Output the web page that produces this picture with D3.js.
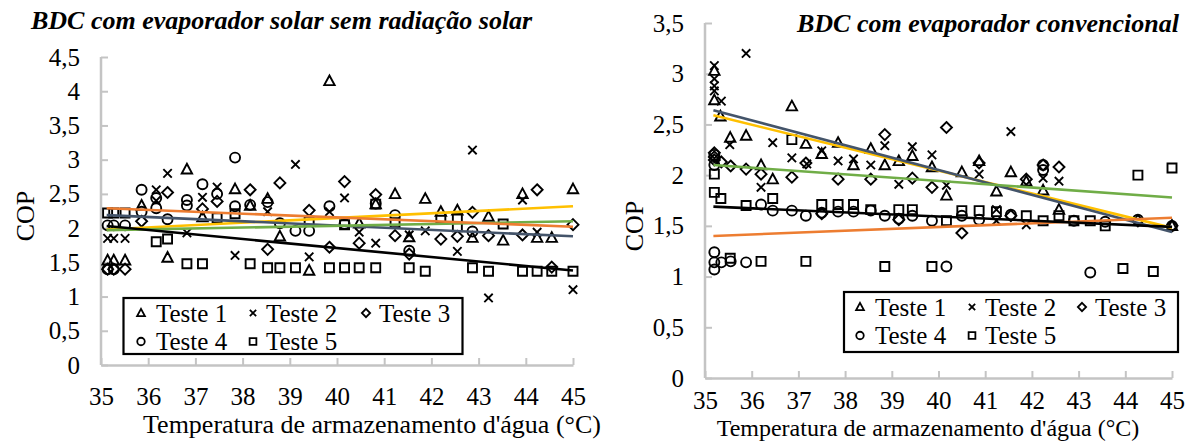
<!DOCTYPE html>
<html><head><meta charset="utf-8">
<script src="https://cdn.jsdelivr.net/npm/d3@7"></script>
<style>
html,body{margin:0;padding:0;background:#fff;}
svg{display:block;}
svg text{font-family:"Liberation Serif","Times New Roman",Times,serif !important;fill:#000;}
</style></head>
<body>
<svg id="chart" width="1196" height="441"></svg>
<script>
// ---------- DATA ----------
const testNames = ["Teste 1", "Teste 2", "Teste 3", "Teste 4", "Teste 5"];
const markerTypes = ["triangle", "cross", "diamond", "circle", "square"];
const trendColors = ["#FFC000", "#44546A", "#70AD47", "#ED7D31", "#000000"];
const xTickValues = [35, 36, 37, 38, 39, 40, 41, 42, 43, 44, 45];
const leftYTicks = [0, 0.5, 1, 1.5, 2, 2.5, 3, 3.5, 4, 4.5];
const rightYTicks = [0, 0.5, 1, 1.5, 2, 2.5, 3, 3.5];
const leftTitle = "BDC com evaporador solar sem radiação solar";
const rightTitle = "BDC com evaporador convencional";
const xTitle = "Temperatura de armazenamento d'água (°C)";
const yTitle = "COP";

// Left panel: [temperature, COP]
const leftTeste1 = [[35.14,1.53],[35.27,1.53],[35.51,1.53],[35.86,2.33],[36.41,1.57],[36.82,2.86],[37.15,2.16],[37.84,2.57],[38.16,2.33],[38.53,2.43],[38.79,1.88],[39.41,1.38],[39.84,4.15],[40.47,2.07],[40.82,2.35],[41.23,2.5],[41.53,1.87],[41.87,2.43],[42.2,2.24],[42.55,2.26],[42.87,1.86],[43.21,2.17],[43.52,1.82],[43.93,2.5],[44.24,1.86],[44.55,1.86],[45,2.57]];
const leftTeste2 = [[35.14,1.85],[35.27,1.85],[35.51,1.85],[36.17,2.56],[36.17,2.4],[36.41,2.8],[36.82,1.93],[37.15,2.45],[37.46,2.6],[37.84,1.6],[38.53,2.24],[39.12,2.93],[39.41,1.58],[39.84,2.24],[40.16,2.44],[40.47,1.94],[40.82,1.78],[41.53,1.9],[41.87,1.96],[42.55,1.66],[42.87,3.14],[43.21,0.98],[43.93,2.41],[44.24,1.94],[45,1.1]];
const leftTeste3 = [[35.14,1.4],[35.27,1.4],[35.51,1.4],[35.86,2.1],[36.41,2.52],[37.15,2.28],[37.46,2.39],[38.16,2.56],[38.53,1.69],[38.79,2.66],[39.41,2.26],[39.84,1.72],[40.16,2.68],[40.47,1.78],[40.82,2.49],[41.23,1.89],[41.53,1.62],[42.2,1.84],[42.55,1.88],[42.87,2.23],[43.21,1.89],[43.93,1.9],[44.24,2.56],[44.55,1.43],[45,2.05]];
const leftTeste4 = [[35.14,2.04],[35.27,2.04],[35.51,2.04],[35.14,1.4],[35.27,1.4],[35.86,2.56],[35.86,2.24],[36.17,2.44],[36.17,2.29],[36.41,2.13],[36.82,2.41],[36.82,2.33],[37.15,2.64],[37.46,2.5],[37.84,3.03],[37.84,2.32],[38.16,2.34],[38.53,2.38],[38.79,2.07],[39.12,1.96],[39.41,1.96],[39.84,2.32],[40.16,2.06],[40.82,2.36],[41.23,2.19],[41.53,1.67],[42.87,1.95]];
const leftTeste5 = [[35.14,2.22],[35.27,2.22],[35.51,2.22],[36.17,1.8],[36.41,1.84],[36.82,1.48],[37.15,1.48],[37.46,2.15],[37.84,2.21],[38.16,1.48],[38.53,1.42],[38.79,1.42],[39.12,1.42],[39.41,2.1],[39.84,1.42],[40.16,1.42],[40.16,2.05],[40.47,1.42],[40.82,1.42],[40.82,2.35],[41.23,2.08],[41.53,1.42],[41.87,1.37],[42.2,2.15],[42.55,2.15],[42.55,2.02],[42.87,1.42],[43.21,1.37],[43.52,2.06],[43.93,1.37],[44.24,1.37],[44.55,1.37],[45,1.37]];
const leftTrendX = [35.12, 45];
const leftTrendStart = [1.98, 2.19, 1.97, 2.29, 2.03];
const leftTrendEnd = [2.32, 1.88, 2.10, 2.02, 1.38];

// Right panel: [temperature, COP]
const rightTeste1 = [[35.2,3.03],[35.2,2.74],[35.33,2.58],[35.54,2.37],[35.88,2.39],[36.2,2.1],[36.45,1.96],[36.86,2.68],[37.16,2.31],[37.5,2.21],[37.85,2.32],[38.18,2.1],[38.55,2.26],[38.85,2.1],[39.15,2.14],[39.44,2.19],[39.86,2.08],[40.17,1.8],[40.5,2.03],[40.87,2.14],[41.24,1.84],[41.55,2.03],[41.88,1.94],[42.24,1.85],[42.58,1.66],[45,1.5]];
const rightTeste2 = [[35.2,3.08],[35.2,2.95],[35.2,2.88],[35.2,2.83],[35.35,2.73],[35.53,2.3],[35.88,3.2],[36.2,1.88],[36.45,2.32],[36.86,2.17],[37.18,2.11],[37.5,2.24],[37.85,2.14],[38.18,2.16],[38.55,2.1],[38.85,2.29],[39.15,1.91],[39.44,2.28],[39.86,2.2],[40.17,1.9],[40.87,2.01],[41.24,1.66],[41.24,1.55],[41.55,2.43],[41.88,1.51],[42.24,1.97],[42.58,1.94]];
const rightTeste3 = [[35.2,2.22],[35.2,2.18],[35.2,2.15],[35.35,2.13],[35.55,2.09],[35.88,2.06],[36.2,2.01],[36.86,1.98],[37.16,2.12],[37.5,1.62],[37.85,1.96],[38.55,1.96],[38.85,2.4],[39.15,1.56],[39.44,1.97],[39.86,1.88],[40.17,2.47],[40.5,1.43],[40.87,2.12],[41.55,1.6],[41.88,1.96],[42.24,2.1],[42.58,2.08],[44.27,1.55],[45,1.5]];
const rightTeste4 = [[35.2,2.2],[35.2,2.1],[35.2,1.24],[35.2,1.14],[35.2,1.07],[35.35,1.14],[35.55,1.15],[35.88,1.14],[36.2,1.71],[36.45,1.65],[36.86,1.65],[37.16,1.6],[37.5,1.63],[37.85,1.64],[38.18,1.64],[38.55,1.65],[38.85,1.6],[39.15,1.57],[39.44,1.6],[39.86,1.55],[40.17,1.1],[40.5,1.6],[40.87,1.56],[41.55,1.61],[42.24,2.05],[42.24,2.1],[42.9,1.55],[43.25,1.04],[43.57,1.54],[44.27,1.56],[45,1.5]];
const rightTeste5 = [[35.2,2.01],[35.2,1.83],[35.34,1.77],[35.54,1.18],[35.88,1.7],[36.2,1.15],[36.45,1.77],[36.86,2.35],[37.16,1.15],[37.5,1.71],[37.85,1.71],[38.18,1.71],[38.55,1.66],[38.85,1.1],[39.15,1.66],[39.44,1.66],[39.86,1.1],[40.17,1.55],[40.5,1.65],[40.87,1.65],[41.24,1.64],[41.88,1.6],[42.24,1.55],[42.58,1.6],[42.9,1.55],[43.25,1.55],[43.57,1.5],[43.95,1.08],[44.27,2.0],[44.6,1.05],[45,2.07]];
const rightTrendX = [35.18, 45];
const rightTrendStart = [2.59, 2.64, 2.10, 1.40, 1.69];
const rightTrendEnd = [1.48, 1.44, 1.78, 1.58, 1.49];

// ---------- DRAWING ----------
const svg = d3.select("#chart");
const FONT = "'Liberation Serif', 'Times New Roman', Times, serif";
const fmt = d => String(d).replace(".", ",");

function markerPath(type, s) {
  const p = d3.path();
  if (type === "triangle") {
    p.moveTo(0, -s * 0.55); p.lineTo(s * 0.52, s * 0.42); p.lineTo(-s * 0.52, s * 0.42); p.closePath();
  } else if (type === "diamond") {
    const r = s * 0.55;
    p.moveTo(0, -r); p.lineTo(r, 0); p.lineTo(0, r); p.lineTo(-r, 0); p.closePath();
  } else if (type === "square") {
    const r = s * 0.45;
    p.rect(-r, -r, 2 * r, 2 * r);
  } else if (type === "circle") {
    const r = s * 0.5;
    p.moveTo(r, 0); p.arc(0, 0, r, 0, 2 * Math.PI);
  } else if (type === "cross") {
    const r = s * 0.42;
    p.moveTo(-r, -r); p.lineTo(r, r); p.moveTo(r, -r); p.lineTo(-r, r);
  }
  return p.toString();
}

function serif(sel, size) {
  return sel.style("font-family", FONT).style("font-size", size + "px").attr("fill", "#000");
}

function drawPanel(cfg) {
  const g = svg.append("g").style("font-family", FONT);
  const x = d3.scaleLinear().domain([35, 45]).range(cfg.xRange);
  const y = d3.scaleLinear().domain([0, cfg.yMax]).range(cfg.yRange);

  // axes
  const xAxis = d3.axisBottom(x).tickValues(xTickValues).tickSize(-7).tickSizeOuter(0).tickPadding(cfg.xPad).tickFormat(d3.format("d"));
  const yAxis = d3.axisLeft(y).tickValues(cfg.yTicks).tickSize(-7).tickSizeOuter(0).tickPadding(21).tickFormat(fmt);
  const gx = g.append("g").attr("transform", `translate(0,${cfg.yRange[0]})`).call(xAxis);
  const gy = g.append("g").attr("transform", `translate(${cfg.xRange[0]},0)`).call(yAxis);
  [gx, gy].forEach(a => {
    a.attr("font-family", null).attr("font-size", null);
    a.select(".domain").attr("stroke", "#c4c4c4").attr("stroke-width", 2.5);
    a.selectAll(".tick line").attr("stroke", "#c4c4c4").attr("stroke-width", 2);
    serif(a.selectAll(".tick text"), 25);
  });
  gy.select(".domain").attr("d", `M0,${cfg.yRange[0]}V${cfg.yRange[1]}`);

  // markers
  cfg.series.forEach((data, i) => {
    g.append("g").selectAll("path").data(data).join("path")
      .attr("transform", d => `translate(${x(d[0])},${y(d[1])})`)
      .attr("d", markerPath(markerTypes[i], 10))
      .attr("fill", "none").attr("stroke", "#000").attr("stroke-width", 1.9);
  });

  // trend lines
  const line = d3.line().x(d => x(d[0])).y(d => y(d[1]));
  cfg.trendStart.forEach((s, i) => {
    const pts = [[cfg.trendX[0], s], [cfg.trendX[1], cfg.trendEnd[i]]];
    g.append("path").attr("d", line(pts)).attr("stroke", trendColors[i])
      .attr("stroke-width", 2.6).attr("fill", "none");
  });

  // legend
  const L = cfg.legend;
  g.append("rect").attr("x", L.x).attr("y", L.y).attr("width", L.w).attr("height", L.h)
    .attr("fill", "#fff").attr("stroke", "#000").attr("stroke-width", 2.2);
  testNames.forEach((name, i) => {
    const col = i < 3 ? i : i - 3, row = i < 3 ? 0 : 1;
    const sx = L.symX[col], sy = L.rowY[row];
    g.append("path").attr("transform", `translate(${sx},${sy})`)
      .attr("d", markerPath(markerTypes[i], 7.5))
      .attr("fill", "none").attr("stroke", "#000").attr("stroke-width", 1.8);
    serif(g.append("text").attr("x", L.txtX[col]).attr("y", sy).attr("dy", "0.34em"), 25).text(name);
  });

  // titles
  serif(g.append("text").attr("x", cfg.title.x).attr("y", cfg.title.y).attr("text-anchor", cfg.title.anchor), 26)
    .style("font-weight", "bold").style("font-style", "italic").text(cfg.title.text);
  serif(g.append("text").attr("transform", `translate(${cfg.yLab[0]},${cfg.yLab[1]}) rotate(-90)`)
    .attr("text-anchor", "middle").attr("dy", "0.35em"), 26).text(yTitle);
  serif(g.append("text").attr("x", cfg.xLab[0]).attr("y", cfg.xLab[1]).attr("text-anchor", "middle"), cfg.xLabSize).text(xTitle);
}

drawPanel({
  xRange: [101, 573], yRange: [365, 57], yMax: 4.5, yTicks: leftYTicks, xPad: 22,
  series: [leftTeste1, leftTeste2, leftTeste3, leftTeste4, leftTeste5],
  trendX: leftTrendX, trendStart: leftTrendStart, trendEnd: leftTrendEnd,
  legend: { x: 123.5, y: 298, w: 339, h: 56, symX: [141, 253, 366], txtX: [156, 266, 379], rowY: [313, 341.5] },
  title: { text: leftTitle, x: 31, y: 29, anchor: "start" },
  yLab: [25, 216], xLab: [372, 433], xLabSize: 26
});
drawPanel({
  xRange: [705, 1172], yRange: [378, 23], yMax: 3.5, yTicks: rightYTicks, xPad: 13,
  series: [rightTeste1, rightTeste2, rightTeste3, rightTeste4, rightTeste5],
  trendX: rightTrendX, trendStart: rightTrendStart, trendEnd: rightTrendEnd,
  legend: { x: 844, y: 292, w: 334, h: 60, symX: [860, 972, 1082], txtX: [875, 985, 1095], rowY: [307, 335.5] },
  title: { text: rightTitle, x: 1179, y: 32, anchor: "end" },
  yLab: [634, 226], xLab: [928, 435.5], xLabSize: 24
});
</script>
</body></html>
